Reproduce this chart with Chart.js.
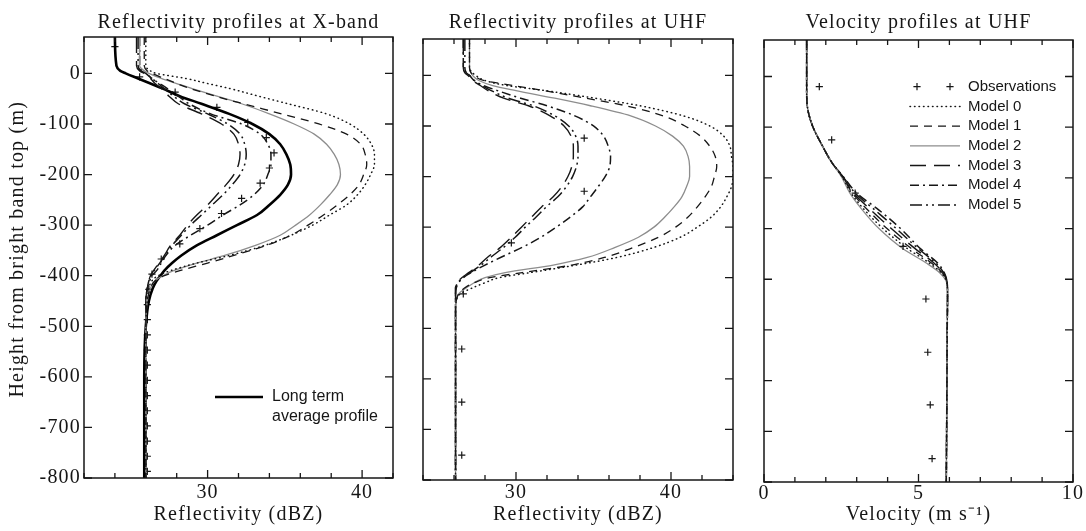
<!DOCTYPE html>
<html><head><meta charset="utf-8">
<script src="https://cdn.jsdelivr.net/npm/chart.js@4.4.1/dist/chart.umd.min.js"></script>
<style>
html,body{margin:0;padding:0;background:#fff;}
#wrap{position:absolute;left:0;top:0;width:1086px;height:531px;}
canvas{position:absolute;left:0;top:0;}
</style></head><body>
<div id="wrap">
<canvas id="c1" width="1086" height="531"></canvas>
<canvas id="c2" width="1086" height="531"></canvas>
<canvas id="c3" width="1086" height="531"></canvas>
</div>
<script>
// ---------- Panel 1: X-band reflectivity (dBZ) ----------
const xbandHeights = [72, 15, 5, 0, -10, -20, -30, -45, -60, -80, -100, -120, -140, -160, -180, -200, -220, -240, -260, -280, -300, -320, -340, -360, -375, -390, -400, -410, -425, -450, -500, -600, -700, -800];
const xbandLongTerm = [24.0, 24.1, 24.35, 24.7, 25.5, 26.3, 27.1, 28.2, 29.6, 31.4, 32.9, 34.0, 34.7, 35.1, 35.35, 35.4, 35.2, 34.7, 34.0, 33.2, 31.9, 30.6, 29.3, 28.3, 27.7, 27.2, 26.95, 26.7, 26.45, 26.2, 26.0, 25.9, 25.9, 25.9];
const xbandM0 = [26.0, 26.0, 26.3, 26.7, 28.6, 30.0, 31.45, 33.3, 35.2, 37.7, 39.2, 40.1, 40.6, 40.8, 40.8, 40.55, 40.2, 39.7, 39.0, 37.9, 36.8, 35.4, 33.7, 31.4, 29.3, 27.6, 26.8, 26.4, 26.2, 26.1, 26.0, 26.0, 26.0, 26.0];
const xbandM1 = [25.9, 25.9, 26.1, 26.4, 27.2, 28.0, 28.9, 30.5, 32.3, 34.8, 37.2, 39.0, 39.9, 40.2, 40.3, 40.1, 39.8, 39.2, 38.4, 37.5, 36.5, 35.4, 33.8, 31.7, 30.0, 28.2, 27.2, 26.6, 26.3, 26.1, 26.0, 26.0, 26.0, 26.0];
const xbandM2 = [25.6, 25.6, 25.9, 26.2, 27.0, 28.0, 29.0, 30.6, 32.2, 34.0, 35.6, 36.9, 37.7, 38.2, 38.5, 38.6, 38.4, 37.9, 37.3, 36.6, 35.7, 34.7, 33.1, 31.1, 29.3, 27.8, 27.1, 26.6, 26.3, 26.1, 26.0, 26.0, 26.0, 26.0];
const xbandM3 = [25.4, 25.4, 25.6, 25.9, 26.3, 26.6, 27.0, 27.5, 28.1, 29.6, 30.9, 31.7, 32.0, 32.1, 32.0, 31.7, 31.2, 30.6, 30.0, 29.3, 28.7, 28.2, 27.6, 27.2, 26.85, 26.5, 26.3, 26.2, 26.1, 26.0, 26.0, 26.0, 26.0, 26.0];
const xbandM4 = [25.6, 25.6, 25.8, 26.0, 26.4, 26.9, 27.4, 28.1, 28.8, 30.2, 32.2, 33.4, 33.9, 34.1, 34.1, 33.9, 33.6, 33.0, 32.1, 31.0, 30.0, 28.9, 27.9, 27.3, 27.0, 26.7, 26.4, 26.25, 26.1, 26.0, 26.0, 26.0, 26.0, 26.0];
const xbandM5 = [25.5, 25.5, 25.7, 26.0, 26.4, 26.8, 27.2, 27.8, 28.5, 30.0, 31.3, 32.1, 32.4, 32.5, 32.4, 32.1, 31.6, 31.0, 30.3, 29.6, 28.9, 28.3, 27.7, 27.25, 26.9, 26.55, 26.35, 26.2, 26.1, 26.0, 26.0, 26.0, 26.0, 26.0];
const xbandObsHeights = [53, -7, -37, -67, -97, -127, -157, -187, -217, -247, -277, -307, -337, -367, -397, -427, -457, -487, -517, -547, -577, -607, -637, -667, -697, -727, -757, -787];
const xbandObs = [24.0, 25.6, 27.9, 30.6, 32.6, 33.8, 34.3, 34.0, 33.4, 32.2, 30.9, 29.5, 28.2, 27.0, 26.4, 26.2, 26.1, 26.1, 26.1, 26.1, 26.1, 26.1, 26.1, 26.1, 26.1, 26.1, 26.1, 26.1];

// ---------- Panel 2: UHF reflectivity (dBZ) ----------
const uhfHeights = [72, 15, 5, 0, -10, -20, -30, -45, -60, -80, -100, -120, -140, -160, -180, -200, -220, -240, -260, -280, -300, -320, -340, -360, -375, -390, -400, -410, -420, -432, -445, -470, -600, -800];
const uhfM0 = [27.0, 27.0, 27.2, 27.4, 28.0, 29.4, 31.9, 35.1, 38.0, 40.8, 42.5, 43.4, 43.8, 43.9, 44.0, 44.0, 43.9, 43.6, 43.2, 42.6, 41.7, 40.6, 38.9, 36.5, 33.9, 30.9, 28.9, 28.0, 27.2, 26.4, 26.15, 26.1, 26.1, 26.1];
const uhfM1 = [27.0, 27.0, 27.1, 27.3, 27.9, 29.8, 31.8, 34.5, 37.1, 39.5, 40.9, 41.9, 42.5, 42.85, 42.95, 42.8, 42.6, 42.2, 41.7, 41.1, 40.3, 39.2, 37.6, 35.7, 33.6, 30.4, 28.3, 27.3, 26.7, 26.3, 26.15, 26.1, 26.1, 26.1];
const uhfM2 = [27.0, 27.0, 27.1, 27.2, 27.6, 28.5, 30.0, 32.5, 34.8, 37.4, 39.0, 40.1, 40.8, 41.1, 41.2, 41.2, 41.0, 40.7, 40.2, 39.6, 38.9, 37.9, 36.4, 34.6, 32.4, 29.3, 28.0, 27.3, 26.8, 26.3, 26.15, 26.1, 26.1, 26.1];
const uhfM3 = [26.6, 26.6, 26.7, 26.9, 27.2, 27.7, 28.2, 29.2, 30.8, 32.2, 33.1, 33.55, 33.7, 33.7, 33.6, 33.35, 32.95, 32.4, 31.65, 31.0, 30.35, 29.7, 29.0, 28.15, 27.6, 26.95, 26.5, 26.2, 26.1, 26.1, 26.1, 26.1, 26.1, 26.1];
const uhfM4 = [26.6, 26.6, 26.8, 27.0, 27.3, 27.9, 28.8, 30.3, 32.0, 33.8, 35.0, 35.65, 35.95, 36.1, 36.05, 35.75, 35.3, 34.8, 34.3, 33.5, 32.6, 31.6, 30.4, 29.0, 28.0, 27.1, 26.6, 26.3, 26.15, 26.1, 26.1, 26.1, 26.1, 26.1];
const uhfM5 = [26.7, 26.7, 26.8, 27.0, 27.3, 27.8, 28.4, 29.5, 31.1, 32.5, 33.4, 33.85, 34.0, 34.0, 33.9, 33.65, 33.25, 32.7, 31.95, 31.3, 30.6, 29.95, 29.2, 28.35, 27.75, 27.05, 26.55, 26.25, 26.1, 26.1, 26.1, 26.1, 26.1, 26.1];
const uhfObsHeights = [-124, -229, -331, -432, -541, -646, -751];
const uhfObs = [34.4, 34.4, 29.7, 26.6, 26.5, 26.5, 26.5];

// ---------- Panel 3: UHF velocity (m/s) ----------
const velHeights = [72, 0, -33, -66, -99, -138, -171, -197, -230, -263, -300, -340, -368, -388, -408, -430, -500, -600, -700, -800];
const velM0 = [1.38, 1.38, 1.38, 1.42, 1.58, 1.90, 2.21, 2.52, 2.82, 3.25, 3.85, 4.65, 5.35, 5.75, 5.92, 5.94, 5.93, 5.92, 5.91, 5.90];
const velM1 = [1.38, 1.38, 1.38, 1.42, 1.58, 1.90, 2.21, 2.53, 2.86, 3.35, 3.98, 4.78, 5.42, 5.78, 5.93, 5.94, 5.93, 5.92, 5.91, 5.90];
const velM2 = [1.38, 1.38, 1.38, 1.42, 1.58, 1.90, 2.21, 2.50, 2.78, 3.18, 3.72, 4.50, 5.25, 5.70, 5.92, 5.94, 5.93, 5.92, 5.91, 5.90];
const velM3 = [1.38, 1.38, 1.38, 1.42, 1.58, 1.90, 2.21, 2.54, 2.90, 3.45, 4.12, 4.90, 5.50, 5.80, 5.93, 5.94, 5.93, 5.92, 5.91, 5.90];
const velM4 = [1.38, 1.38, 1.38, 1.42, 1.58, 1.90, 2.21, 2.56, 3.00, 3.71, 4.42, 5.07, 5.62, 5.84, 5.93, 5.94, 5.93, 5.92, 5.91, 5.90];
const velM5 = [1.38, 1.38, 1.38, 1.42, 1.58, 1.90, 2.21, 2.55, 2.95, 3.58, 4.28, 5.00, 5.56, 5.82, 5.93, 5.94, 5.93, 5.92, 5.91, 5.90];
const velObsHeights = [-20, -125, -230, -335, -439, -544, -648, -754];
const velObs = [1.79, 2.19, 2.95, 4.5, 5.24, 5.30, 5.38, 5.44];

// ---------- labels ----------
const panelTitles = ['Reflectivity profiles at X-band', 'Reflectivity profiles at UHF', 'Velocity profiles at UHF'];
const xTitles = ['Reflectivity (dBZ)', 'Reflectivity (dBZ)', 'Velocity (m s\u207B\u00B9)'];
const yTitle = '\u2002\u2009Height from bright band top (m)';
const modelNames = ['Model 0', 'Model 1', 'Model 2', 'Model 3', 'Model 4', 'Model 5'];
const obsName = 'Observations';
const longTermName = 'Long term\naverage profile';

// ---------- styling ----------
const INK = '#161616';
const SERIF = '"Liberation Serif", "Times New Roman", serif';
const SANS = '"Liberation Sans", Arial, sans-serif';
const modelStyles = [
  {borderColor: INK, borderDash: [0.5, 4], borderCapStyle: 'round', borderWidth: 1.5},
  {borderColor: INK, borderDash: [8, 6], borderWidth: 1.3},
  {borderColor: '#8d8d8d', borderDash: [], borderWidth: 1.3},
  {borderColor: INK, borderDash: [16, 8], borderWidth: 1.4},
  {borderColor: INK, borderDash: [9, 4, 2, 4], borderWidth: 1.5},
  {borderColor: INK, borderDash: [12, 4, 2, 4, 2, 4], borderWidth: 1.5}
];

const pts = (hs, vs) => hs.map((h, i) => ({x: vs[i], y: h}));
function modelSets(hs, arrs) {
  return arrs.map((vs, i) => Object.assign({label: modelNames[i], data: pts(hs, vs), pointRadius: 0, fill: false}, modelStyles[i]));
}
function obsSet(hs, vs) {
  return {label: obsName, data: pts(hs, vs), showLine: false, pointStyle: 'cross', pointRadius: 3.6,
          pointBorderWidth: 1.2, borderColor: INK, backgroundColor: INK, pointBorderColor: INK, borderWidth: 1.2};
}

// ---------- plugins ----------
const frame = {
  id: 'frame',
  beforeDraw(chart) { chart.ctx.letterSpacing = '1.2px'; },
  afterDraw(chart, args, o) {
    const {ctx, chartArea: a, scales} = chart;
    ctx.save();
    ctx.letterSpacing = '0px';
    ctx.setLineDash([]);
    ctx.strokeStyle = INK;
    ctx.lineWidth = 1.5;
    ctx.strokeRect(a.left, a.top, a.right - a.left, a.bottom - a.top);
    ctx.lineWidth = 1.3;
    ctx.beginPath();
    const xs = scales.x, ys = scales.y;
    xs.ticks.forEach(t => {
      const px = xs.getPixelForValue(t.value);
      const L = (t.label !== '' && t.label !== undefined) ? 8 : 5;
      ctx.moveTo(px, a.bottom); ctx.lineTo(px, a.bottom - L);
      ctx.moveTo(px, a.top); ctx.lineTo(px, a.top + L);
    });
    ys.ticks.forEach(t => {
      const py = ys.getPixelForValue(t.value);
      ctx.moveTo(a.left, py); ctx.lineTo(a.left + 8, py);
      ctx.moveTo(a.right, py); ctx.lineTo(a.right - 8, py);
    });
    ctx.stroke();
    ctx.letterSpacing = '1.2px';
    ctx.font = '20px ' + SERIF;
    ctx.fillStyle = INK;
    ctx.textAlign = 'center';
    ctx.textBaseline = 'alphabetic';
    ctx.fillText(o.text, (a.left + a.right) / 2, o.baseline);
    ctx.restore();
  }
};
const insideLegend = {
  id: 'insideLegend',
  afterDraw(chart, args, o) {
    if (!o || !o.rows) return;
    const {ctx, chartArea: a} = chart;
    ctx.save();
    ctx.letterSpacing = '0px';
    ctx.font = o.fontSize + 'px ' + SANS;
    ctx.fillStyle = INK;
    ctx.textBaseline = 'middle';
    ctx.textAlign = 'left';
    o.rows.forEach((di, i) => {
      const ds = chart.data.datasets[di];
      const y = a.top + o.top + i * o.step;
      const x0 = a.left + o.left, x1 = x0 + o.sample;
      if (ds.showLine === false) {
        ctx.setLineDash([]);
        ctx.strokeStyle = ds.borderColor;
        ctx.lineWidth = ds.pointBorderWidth;
        const s = ds.pointRadius;
        [x0 + 7, x1 - 10].forEach(cx => {
          ctx.beginPath();
          ctx.moveTo(cx - s, y); ctx.lineTo(cx + s, y);
          ctx.moveTo(cx, y - s); ctx.lineTo(cx, y + s);
          ctx.stroke();
        });
      } else {
        ctx.strokeStyle = ds.borderColor;
        ctx.lineWidth = ds.borderWidth;
        ctx.setLineDash(ds.borderDash || []);
        ctx.lineCap = ds.borderCapStyle || 'butt';
        ctx.beginPath(); ctx.moveTo(x0, y); ctx.lineTo(x1, y); ctx.stroke();
      }
      ds.label.split('\n').forEach((t, j) => ctx.fillText(t, x1 + o.gap, y + j * o.lineStep));
    });
    ctx.restore();
  }
};
Chart.register(frame, insideLegend);

function buildChart(id, p) {
  return new Chart(document.getElementById(id), {
    type: 'line',
    data: {datasets: p.datasets},
    options: {
      responsive: false, animation: false, devicePixelRatio: 1,
      indexAxis: 'y',
      events: [],
      layout: {padding: {left: 0, right: 1086 - p.right, top: p.top, bottom: 0}},
      elements: {line: {tension: 0, cubicInterpolationMode: 'monotone'}, point: {hoverRadius: 0}},
      plugins: {
        legend: {display: false}, tooltip: {enabled: false}, title: {display: false},
        frame: {text: p.title, baseline: 28},
        insideLegend: p.legend || {}
      },
      scales: {
        x: {
          type: 'linear', position: 'bottom', min: p.xmin, max: p.xmax,
          grid: {display: false, drawTicks: false}, border: {display: false},
          ticks: {stepSize: p.xstep, autoSkip: false, maxRotation: 0, padding: p.xpad,
                  color: INK, font: {family: SERIF, size: 20},
                  callback: v => (p.xlabels.includes(v) ? String(v) : '')},
          title: {display: true, text: p.xtitle, color: INK, font: {family: SERIF, size: 20}, padding: {top: 0, bottom: 4}},
          afterFit(s) { s.height = 531 - p.bottom; }
        },
        y: {
          type: 'linear', position: 'left', min: -800, max: 72,
          grid: {display: false, drawTicks: false}, border: {display: false},
          ticks: {display: p.showY, stepSize: 100, includeBounds: false, autoSkip: false, padding: 3,
                  color: INK, font: {family: SERIF, size: 20}},
          title: {display: p.showY, text: yTitle, color: INK, font: {family: SERIF, size: 20}, padding: {top: 6, bottom: 0}},
          afterFit(s) { s.width = p.left; }
        }
      }
    }
  });
}

const lt = Object.assign({label: longTermName, data: pts(xbandHeights, xbandLongTerm), pointRadius: 0,
  borderColor: '#000', borderWidth: 2.6, borderDash: [], fill: false});

buildChart('c1', {
  title: panelTitles[0], xtitle: xTitles[0], showY: true,
  left: 84, right: 393, top: 37, bottom: 478,
  xmin: 22, xmax: 42, xstep: 2, xlabels: [30, 40], xpad: 3,
  datasets: [...modelSets(xbandHeights, [xbandM0, xbandM1, xbandM2, xbandM3, xbandM4, xbandM5]),
             lt, obsSet(xbandObsHeights, xbandObs)],
  legend: {rows: [6], top: 360, left: 131, sample: 48, gap: 9, step: 20, lineStep: 20, fontSize: 16}
});
buildChart('c2', {
  title: panelTitles[1], xtitle: xTitles[1], showY: false,
  left: 423, right: 733, top: 39, bottom: 480,
  xmin: 24, xmax: 44, xstep: 2, xlabels: [30, 40], xpad: 1,
  datasets: [...modelSets(uhfHeights, [uhfM0, uhfM1, uhfM2, uhfM3, uhfM4, uhfM5]),
             obsSet(uhfObsHeights, uhfObs)]
});
buildChart('c3', {
  title: panelTitles[2], xtitle: xTitles[2], showY: false,
  left: 764, right: 1073, top: 40, bottom: 482,
  xmin: 0, xmax: 10, xstep: 1, xlabels: [0, 5, 10], xpad: 0,
  datasets: [obsSet(velObsHeights, velObs),
             ...modelSets(velHeights, [velM0, velM1, velM2, velM3, velM4, velM5])],
  legend: {rows: [0, 1, 2, 3, 4, 5, 6], top: 46.7, left: 146, sample: 50, gap: 8, step: 19.7, lineStep: 0, fontSize: 15}
});
</script>
</body></html>
